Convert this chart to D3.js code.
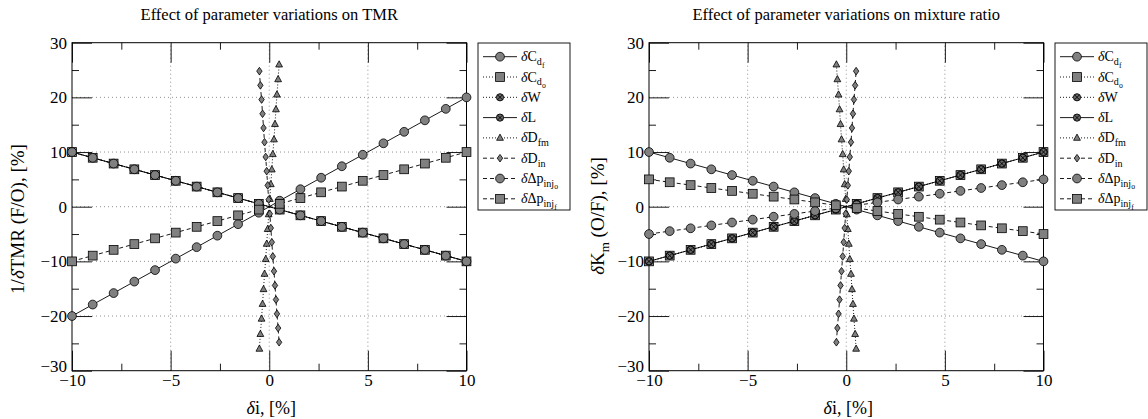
<!DOCTYPE html>
<meta charset="utf-8">
<html>
<body style="margin:0; background-color: white;">
<script src="https://d3js.org/d3.v7.min.js"></script>
<div id="chart"></div>
<script>
// variation of each parameter, [%]
var xi = [-10, -8.95, -7.89, -6.84, -5.79, -4.74, -3.68, -2.63, -1.58, -0.53,
          0.53, 1.58, 2.63, 3.68, 4.74, 5.79, 6.84, 7.89, 8.95, 10];
// diameters were swept over a much smaller range
var xiD = [-0.5, -0.45, -0.39, -0.34, -0.29, -0.24, -0.18, -0.13, -0.08, -0.03,
           0.03, 0.08, 0.13, 0.18, 0.24, 0.29, 0.34, 0.39, 0.45, 0.5];

// left panel: 1/dTMR (F/O)
var tmrCdf = [-20, -17.9, -15.8, -13.7, -11.6, -9.5, -7.4, -5.3, -3.2, -1.1, 1.1, 3.2, 5.3, 7.4, 9.5, 11.6, 13.7, 15.8, 17.9, 20];
var tmrCdo = [10, 8.95, 7.89, 6.84, 5.79, 4.74, 3.68, 2.63, 1.58, 0.53, -0.53, -1.58, -2.63, -3.68, -4.74, -5.79, -6.84, -7.89, -8.95, -10];
var tmrW   = [10, 8.95, 7.89, 6.84, 5.79, 4.74, 3.68, 2.63, 1.58, 0.53, -0.53, -1.58, -2.63, -3.68, -4.74, -5.79, -6.84, -7.89, -8.95, -10];
var tmrL   = [10, 8.95, 7.89, 6.84, 5.79, 4.74, 3.68, 2.63, 1.58, 0.53, -0.53, -1.58, -2.63, -3.68, -4.74, -5.79, -6.84, -7.89, -8.95, -10];
var tmrDfm = [-26, -23.3, -20.5, -17.8, -15.1, -12.3, -9.6, -6.8, -4.1, -1.4, 1.4, 4.1, 6.8, 9.6, 12.3, 15.1, 17.8, 20.5, 23.3, 26];
var tmrDin = [24.8, 22.2, 19.6, 17.0, 14.4, 11.8, 9.1, 6.5, 3.9, 1.3, -1.3, -3.9, -6.5, -9.1, -11.8, -14.4, -17.0, -19.6, -22.2, -24.8];
var tmrDpo = [10, 8.95, 7.89, 6.84, 5.79, 4.74, 3.68, 2.63, 1.58, 0.53, -0.53, -1.58, -2.63, -3.68, -4.74, -5.79, -6.84, -7.89, -8.95, -10];
var tmrDpf = [-10, -8.95, -7.89, -6.84, -5.79, -4.74, -3.68, -2.63, -1.58, -0.53, 0.53, 1.58, 2.63, 3.68, 4.74, 5.79, 6.84, 7.89, 8.95, 10];

// right panel: dKm (O/F)
var kmCdf = [10, 8.95, 7.89, 6.84, 5.79, 4.74, 3.68, 2.63, 1.58, 0.53, -0.53, -1.58, -2.63, -3.68, -4.74, -5.79, -6.84, -7.89, -8.95, -10];
var kmCdo = [-10, -8.95, -7.89, -6.84, -5.79, -4.74, -3.68, -2.63, -1.58, -0.53, 0.53, 1.58, 2.63, 3.68, 4.74, 5.79, 6.84, 7.89, 8.95, 10];
var kmW   = [-10, -8.95, -7.89, -6.84, -5.79, -4.74, -3.68, -2.63, -1.58, -0.53, 0.53, 1.58, 2.63, 3.68, 4.74, 5.79, 6.84, 7.89, 8.95, 10];
var kmL   = [-10, -8.95, -7.89, -6.84, -5.79, -4.74, -3.68, -2.63, -1.58, -0.53, 0.53, 1.58, 2.63, 3.68, 4.74, 5.79, 6.84, 7.89, 8.95, 10];
var kmDfm = [26, 23.3, 20.5, 17.8, 15.1, 12.3, 9.6, 6.8, 4.1, 1.4, -1.4, -4.1, -6.8, -9.6, -12.3, -15.1, -17.8, -20.5, -23.3, -26];
var kmDin = [-24.8, -22.2, -19.6, -17.0, -14.4, -11.8, -9.1, -6.5, -3.9, -1.3, 1.3, 3.9, 6.5, 9.1, 11.8, 14.4, 17.0, 19.6, 22.2, 24.8];
var kmDpo = [-5, -4.47, -3.95, -3.42, -2.89, -2.37, -1.84, -1.32, -0.79, -0.26, 0.26, 0.79, 1.32, 1.84, 2.37, 2.89, 3.42, 3.95, 4.47, 5];
var kmDpf = [5, 4.47, 3.95, 3.42, 2.89, 2.37, 1.84, 1.32, 0.79, 0.26, -0.26, -0.79, -1.32, -1.84, -2.37, -2.89, -3.42, -3.95, -4.47, -5];

// legend entries, in plotting order: [symbol, subscript, sub-subscript]
var seriesNames = [["C", "d", "f"], ["C", "d", "o"], ["W", "", ""], ["L", "", ""],
                   ["D", "fm", ""], ["D", "in", ""], ["\u0394p", "inj", "o"], ["\u0394p", "inj", "f"]];
var seriesDash = ["solid", "dot", "dot", "solid", "dot", "dash", "dash", "dash"];
var seriesMark = ["circle", "square", "cross", "cross", "triangle", "diamond", "circle", "square"];

var xTicks = [-10, -5, 0, 5, 10];
var yTicks = [-30, -20, -10, 0, 10, 20, 30];

var W = 1148, H = 419;
var font = "'Liberation Serif', 'Times New Roman', serif";
var markFill = "#808080";

var svg = d3.select("#chart").append("svg")
  .attr("width", W).attr("height", H)
  .style("background", "white");

var dashes = { solid: null, dot: "1,2", dash: "4,3" };

function drawMarker(g, type, x, y) {
  if (type == "circle") {
    g.append("circle").attr("cx", x).attr("cy", y).attr("r", 4.4)
      .attr("fill", markFill).attr("stroke", "black").attr("stroke-width", 0.8);
  } else if (type == "square") {
    g.append("rect").attr("x", x - 4.4).attr("y", y - 4.4).attr("width", 8.8).attr("height", 8.8)
      .attr("fill", markFill).attr("stroke", "black").attr("stroke-width", 0.8);
  } else if (type == "triangle") {
    g.append("path").attr("d", "M" + x + "," + (y - 3.8) + "L" + (x + 3.4) + "," + (y + 2.4) + "L" + (x - 3.4) + "," + (y + 2.4) + "Z")
      .attr("fill", markFill).attr("stroke", "black").attr("stroke-width", 0.8);
  } else if (type == "diamond") {
    g.append("path").attr("d", "M" + x + "," + (y - 3.8) + "L" + (x + 2.7) + "," + y + "L" + x + "," + (y + 3.8) + "L" + (x - 2.7) + "," + y + "Z")
      .attr("fill", markFill).attr("stroke", "black").attr("stroke-width", 0.8);
  } else if (type == "cross") {
    g.append("circle").attr("cx", x).attr("cy", y).attr("r", 3.6)
      .attr("fill", "#6a6a6a").attr("stroke", "black").attr("stroke-width", 0.9);
    var d = 2.4;
    g.append("path").attr("d", "M" + (x - d) + "," + (y - d) + "L" + (x + d) + "," + (y + d) + "M" + (x + d) + "," + (y - d) + "L" + (x - d) + "," + (y + d))
      .attr("stroke", "black").attr("stroke-width", 0.9);
  }
}

// write a label like dC_{d_f} with nested subscripts
function writeLabel(text, x, y, name, size) {
  text.attr("x", x).attr("y", y).attr("font-family", font).attr("font-size", size);
  text.append("tspan").attr("font-style", "italic").text("\u03b4");
  text.append("tspan").text(name[0]);
  if (name[1]) text.append("tspan").attr("dy", size * 0.28).attr("font-size", size * 0.72).text(name[1]);
  if (name[2]) text.append("tspan").attr("dy", size * 0.18).attr("font-size", size * 0.55).text(name[2]);
}

function drawPanel(opt) {
  var x = d3.scaleLinear().domain([-10, 10]).range([opt.left, opt.left + 394.5]);
  var y = d3.scaleLinear().domain([-30, 30]).range([370.7, 42.7]);
  var g = svg.append("g");

  // dotted grid at the labelled values
  g.selectAll(".gx").data([-5, 0, 5]).enter().append("line")
    .attr("x1", d => x(d)).attr("x2", d => x(d)).attr("y1", y(-30)).attr("y2", y(30))
    .attr("stroke", "#777").attr("stroke-width", 0.8).attr("stroke-dasharray", "1,3");
  g.selectAll(".gy").data([-20, -10, 0, 10, 20]).enter().append("line")
    .attr("y1", d => y(d)).attr("y2", d => y(d)).attr("x1", x(-10)).attr("x2", x(10))
    .attr("stroke", "#777").attr("stroke-width", 0.8).attr("stroke-dasharray", "1,3");

  // inward ticks on all four sides, long at majors, short at minors
  var xMinor = [-7.5, -2.5, 2.5, 7.5], yMinor = [-25, -15, -5, 5, 15, 25];
  g.append("g").attr("transform", "translate(0," + y(-30) + ")")
    .call(d3.axisBottom(x).tickValues(xTicks).tickSize(-20).tickPadding(3).tickFormat(d3.format("d")));
  g.append("g").attr("transform", "translate(0," + y(-30) + ")")
    .call(d3.axisBottom(x).tickValues(xMinor).tickSize(-7).tickFormat(""));
  g.append("g").attr("transform", "translate(0," + y(30) + ")")
    .call(d3.axisTop(x).tickValues(xTicks).tickSize(-20).tickFormat(""));
  g.append("g").attr("transform", "translate(0," + y(30) + ")")
    .call(d3.axisTop(x).tickValues(xMinor).tickSize(-7).tickFormat(""));
  var yAx = g.append("g").attr("transform", "translate(" + x(-10) + ",0)")
    .call(d3.axisLeft(y).tickValues(yTicks).tickSize(-20).tickPadding(5).tickFormat(d3.format("d")));
  g.append("g").attr("transform", "translate(" + x(-10) + ",0)")
    .call(d3.axisLeft(y).tickValues(yMinor).tickSize(-7).tickFormat(""));
  g.append("g").attr("transform", "translate(" + x(10) + ",0)")
    .call(d3.axisRight(y).tickValues(yTicks).tickSize(-20).tickFormat(""));
  g.append("g").attr("transform", "translate(" + x(10) + ",0)")
    .call(d3.axisRight(y).tickValues(yMinor).tickSize(-7).tickFormat(""));
  g.selectAll(".domain").remove();
  g.selectAll(".tick line").attr("stroke", "black").attr("stroke-width", 0.9);
  g.selectAll(".tick text").attr("font-family", font).attr("font-size", 17).attr("fill", "black");
  // lowest y label sits a little higher so it clears the x labels
  yAx.selectAll(".tick text").filter(d => d == -30).attr("dy", "0.05em");

  g.append("rect").attr("x", x(-10)).attr("y", y(30)).attr("width", x(10) - x(-10)).attr("height", y(-30) - y(30))
    .attr("fill", "none").attr("stroke", "black").attr("stroke-width", 1);

  // series: line first, then its markers
  var line = d3.line().x(d => x(d[0])).y(d => y(d[1]));
  opt.series.forEach(function(ys, i) {
    var xs = seriesMark[i] == "triangle" || seriesMark[i] == "diamond" ? xiD : xi;
    var pts = ys.map((v, k) => [xs[k], v]);
    g.append("path").datum(pts).attr("d", line).attr("fill", "none")
      .attr("stroke", "black").attr("stroke-width", 0.9)
      .attr("stroke-dasharray", dashes[seriesDash[i]]);
    var mg = g.append("g");
    pts.forEach(p => drawMarker(mg, seriesMark[i], x(p[0]), y(p[1])));
  });

  // titles and axis labels
  svg.append("text").attr("x", x(0)).attr("y", 20).attr("text-anchor", "middle")
    .attr("font-family", font).attr("font-size", 16.5).text(opt.title);
  svg.append("text").attr("x", x(0) + 2).attr("y", 414).attr("text-anchor", "middle")
    .attr("font-family", font).attr("font-size", 18)
    .call(t => { t.append("tspan").attr("font-style", "italic").text("\u03b4"); t.append("tspan").text("i, [%]"); });
  var yl = svg.append("text").attr("transform", "translate(" + opt.ylabX + "," + opt.ylabY + ") rotate(-90)")
    .attr("text-anchor", "middle").attr("font-family", font).attr("font-size", 19);
  opt.ylabel(yl);

  // legend
  var lg = svg.append("g");
  lg.append("rect").attr("x", opt.legX).attr("y", 43).attr("width", 92).attr("height", 167)
    .attr("fill", "white").attr("stroke", "black").attr("stroke-width", 0.9);
  seriesNames.forEach(function(nm, i) {
    var cy = 56.7 + i * 20.3;
    lg.append("line").attr("x1", opt.legX + 5).attr("x2", opt.legX + 39).attr("y1", cy).attr("y2", cy)
      .attr("stroke", "black").attr("stroke-width", 0.9).attr("stroke-dasharray", dashes[seriesDash[i]]);
    drawMarker(lg, seriesMark[i], opt.legX + 22, cy);
    writeLabel(lg.append("text"), opt.legX + 43, cy + 4.5, nm, 14);
  });
}

drawPanel({
  left: 72, ylabX: 24, ylabY: 219, legX: 478,
  title: "Effect of parameter variations on TMR",
  series: [tmrCdf, tmrCdo, tmrW, tmrL, tmrDfm, tmrDin, tmrDpo, tmrDpf],
  ylabel: function(t) {
    t.append("tspan").text("1/");
    t.append("tspan").attr("font-style", "italic").text("\u03b4");
    t.append("tspan").text("TMR (F/O), [%]");
  }
});
drawPanel({
  left: 649, ylabX: 604, ylabY: 216, legX: 1055,
  title: "Effect of parameter variations on mixture ratio",
  series: [kmCdf, kmCdo, kmW, kmL, kmDfm, kmDin, kmDpo, kmDpf],
  ylabel: function(t) {
    t.append("tspan").attr("font-style", "italic").text("\u03b4");
    t.append("tspan").text("K");
    t.append("tspan").attr("dy", 4.5).attr("font-size", 13).text("m");
    t.append("tspan").attr("dy", -4.5).text(" (O/F), [%]");
  }
});
</script>
</body>
</html>
